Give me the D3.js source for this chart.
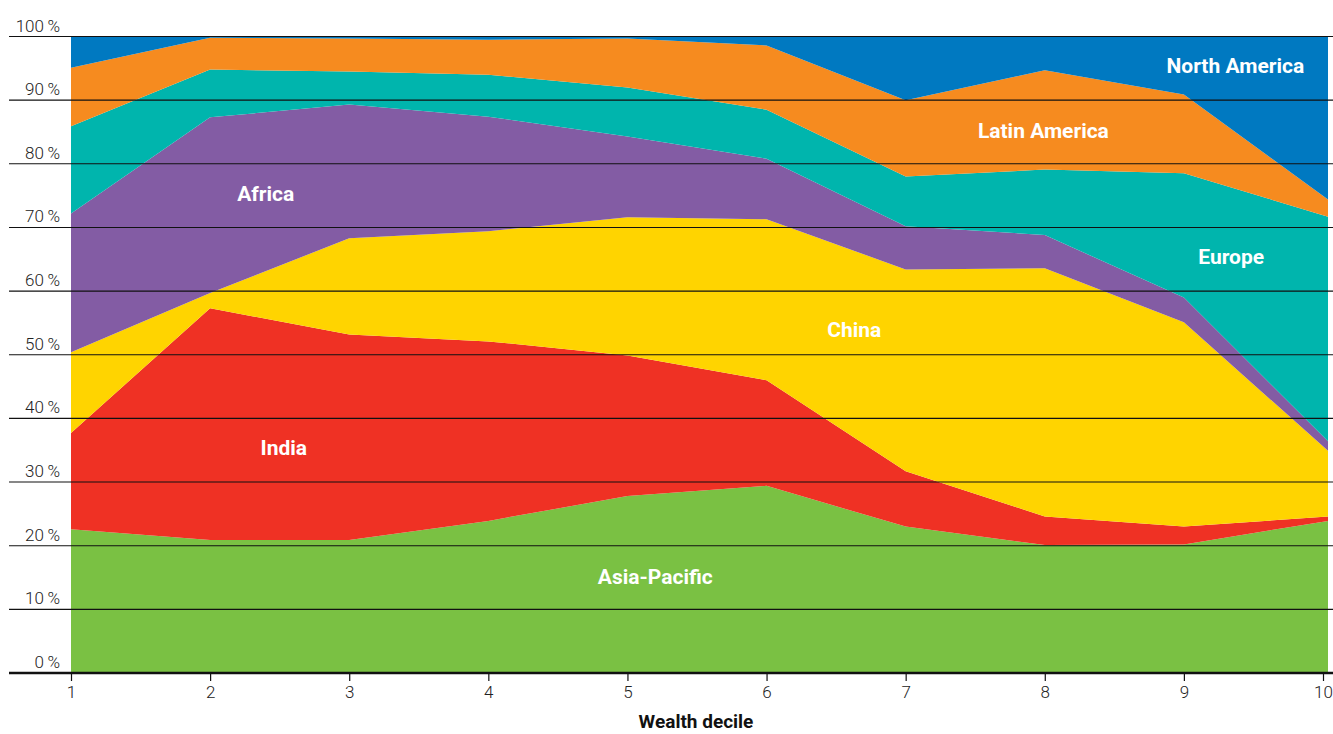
<!DOCTYPE html>
<html>
<head>
<meta charset="utf-8">
<script src="https://cdn.jsdelivr.net/npm/d3@7"></script>
<style>
  body { margin: 0; background: #fff; }
  svg { display: block; font-family: Roboto, "Liberation Sans", sans-serif; }
</style>
</head>
<body>
<svg width="1333" height="734"></svg>
<script>
// Wealth deciles on the x axis
const deciles = [1, 2, 3, 4, 5, 6, 7, 8, 9, 10];

// Regional share (%) of each decile, stacked bottom to top
const asiaPacific  = [22.6, 20.9, 20.9, 23.9, 27.8, 29.4, 23.0, 20.1, 20.2, 23.9];
const india        = [15.1, 36.4, 32.3, 28.2, 22.1, 16.6,  8.7,  4.5,  2.8,  0.7];
const china        = [12.7,  2.4, 15.1, 17.3, 21.7, 25.3, 31.7, 39.0, 32.1, 10.3];
const africa       = [21.8, 27.6, 21.0, 18.0, 12.7,  9.5,  6.8,  5.2,  3.9,  1.5];
const europe       = [13.7,  7.5,  5.2,  6.6,  7.7,  7.7,  7.8, 10.3, 19.5, 35.3];
const latinAmerica = [ 9.2,  5.0,  5.2,  5.5,  7.7, 10.1, 12.0, 15.6, 12.4,  2.7];
const northAmerica = [ 4.9,  0.2,  0.3,  0.5,  0.3,  1.4, 10.0,  5.3,  9.1, 25.6];

const regions = ["Asia-Pacific", "India", "China", "Africa", "Europe", "Latin America", "North America"];
const colors = ["#7ac143", "#ef3124", "#ffd400", "#835ca4", "#00b5ad", "#f68b1f", "#0079c1"];
const yTicks = [0, 10, 20, 30, 40, 50, 60, 70, 80, 90, 100];

// Label anchors in data units (decile, percent)
const labelPos = [
  [5.2, 15.1], [2.53, 35.5], [6.63, 53.9], [2.4, 75.3],
  [9.34, 65.5], [7.99, 85.2], [9.37, 95.4]
];

const series = [asiaPacific, india, china, africa, europe, latinAmerica, northAmerica];
const table = deciles.map((d, i) => {
  const row = { decile: d };
  regions.forEach((r, k) => { row[r] = series[k][i]; });
  return row;
});

const svg = d3.select("svg");

const x = d3.scaleLinear().domain([1, 10]).range([71, 1323]);
const y = d3.scaleLinear().domain([0, 100]).range([673, 36.5]);

const stack = d3.stack().keys(regions);
const layers = stack(table);

const area = d3.area()
  .x(d => x(d.data.decile) + (d.data.decile === 10 ? 5 : 0))
  .y0(d => y(d[0]))
  .y1(d => y(d[1]));

// Stacked areas
svg.append("g")
  .selectAll("path")
  .data(layers)
  .join("path")
  .attr("d", area)
  .attr("fill", (d, i) => colors[i]);

// Horizontal gridlines with labels above them
const grid = svg.append("g");
grid.selectAll("line")
  .data(yTicks)
  .join("line")
  .attr("x1", 9)
  .attr("x2", 1333)
  .attr("y1", d => y(d))
  .attr("y2", d => y(d))
  .attr("stroke", "#111")
  .attr("stroke-width", d => d === 0 ? 2.5 : 1.1);

grid.selectAll("text")
  .data(yTicks)
  .join("text")
  .attr("x", 60)
  .attr("y", d => y(d) - 5)
  .attr("text-anchor", "end")
  .attr("font-size", 17)
  .attr("font-weight", 300)
  .attr("fill", "#222")
  .text(d => d + "\u2009%");

// X axis
const xAxis = d3.axisBottom(x)
  .tickValues(deciles)
  .tickFormat(d3.format("d"))
  .tickSize(7)
  .tickPadding(5);

const gx = svg.append("g")
  .attr("transform", "translate(0,674)")
  .call(xAxis);
gx.select(".domain").remove();
gx.selectAll(".tick line").attr("stroke", "#111").attr("stroke-width", 1.2);
gx.selectAll(".tick text")
  .attr("font-size", 17)
  .attr("font-weight", 300)
  .attr("fill", "#222")
  .attr("font-family", "Roboto, sans-serif");

svg.append("text")
  .attr("x", 696)
  .attr("y", 728)
  .attr("text-anchor", "middle")
  .attr("font-size", 19)
  .attr("font-weight", 700)
  .attr("fill", "#111")
  .text("Wealth decile");

// Region labels
svg.append("g")
  .selectAll("text")
  .data(regions)
  .join("text")
  .attr("x", (d, i) => x(labelPos[i][0]))
  .attr("y", (d, i) => y(labelPos[i][1]))
  .attr("dy", "0.36em")
  .attr("text-anchor", "middle")
  .attr("font-size", 21)
  .attr("font-weight", 700)
  .attr("fill", "#fff")
  .text(d => d);
</script>
</body>
</html>
